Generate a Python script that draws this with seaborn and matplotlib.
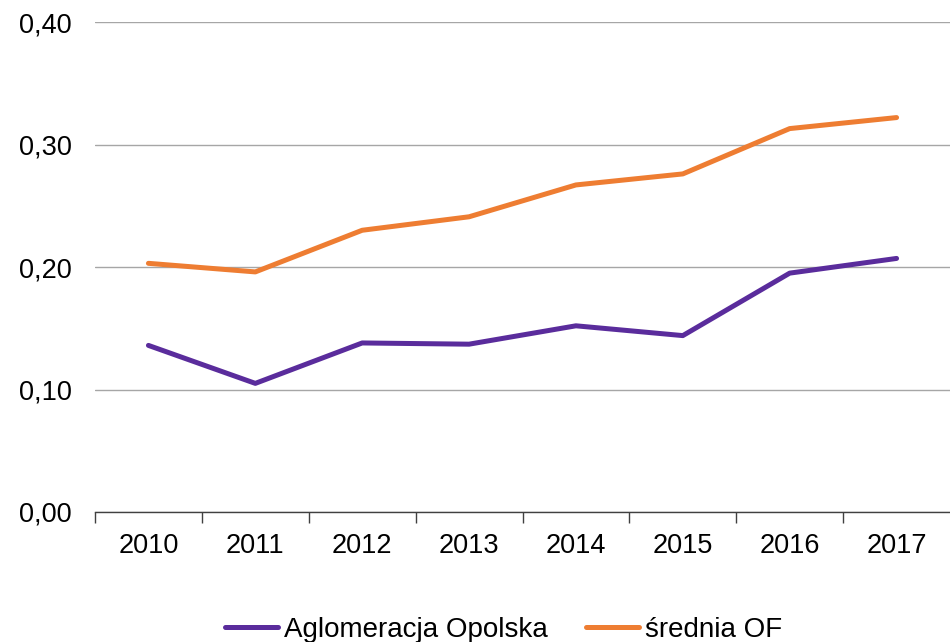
import matplotlib
matplotlib.use("Agg")
import matplotlib.pyplot as plt
import seaborn as sns
import pandas as pd

years = ["2010", "2011", "2012", "2013", "2014", "2015", "2016", "2017"]
aglomeracja = [0.136, 0.105, 0.138, 0.137, 0.152, 0.144, 0.195, 0.207]
srednia_of = [0.203, 0.196, 0.230, 0.241, 0.267, 0.276, 0.313, 0.322]
series_names = ["Aglomeracja Opolska", "średnia OF"]
yticks = [0.0, 0.1, 0.2, 0.3, 0.4]

sns.set_style("white")
plt.rcParams["font.family"] = ["Liberation Sans", "DejaVu Sans"]
plt.rcParams["text.color"] = "black"

df = pd.DataFrame({
    "rok": years * 2,
    "wartosc": aglomeracja + srednia_of,
    "seria": [series_names[0]] * len(years) + [series_names[1]] * len(years),
})

fig = plt.figure(figsize=(9.5, 6.42), dpi=100)
ax = fig.add_axes([0.1, 0.2025, 0.9, 0.7632])

sns.lineplot(
    data=df, x="rok", y="wartosc", hue="seria",
    palette=["#5A2C9C", "#EE7D32"], linewidth=3.6, ax=ax, sort=False,
)
for line in ax.lines:
    line.set_solid_capstyle("round")
    line.set_solid_joinstyle("round")

ax.set_xlim(-0.5, 7.5)
ax.set_ylim(0, 0.4)
ax.set_yticks(yticks)
ax.set_yticklabels([f"{v:.2f}".replace(".", ",") for v in yticks], fontsize=19.5)
ax.yaxis.grid(True, color="#A6A6A6", linewidth=1)
ax.set_axisbelow(True)
ax.tick_params(axis="y", length=0, pad=16.5, labelcolor="black")

# category labels in the middle, small ticks between the categories
ax.set_xticks(range(len(years)))
ax.set_xticklabels(years, fontsize=19.5)
ax.set_xticks([i - 0.5 for i in range(len(years))], minor=True)
ax.tick_params(axis="x", which="major", bottom=False, length=0, pad=15,
               labelcolor="black")
ax.tick_params(axis="x", which="minor", bottom=True, length=8, width=1,
               color="#404040", direction="out")

for side in ["left", "right", "top"]:
    ax.spines[side].set_visible(False)
ax.spines["bottom"].set_color("#404040")
ax.spines["bottom"].set_linewidth(1)

ax.set_xlabel("")
ax.set_ylabel("")

leg = ax.legend(
    loc="center", bbox_to_anchor=(0.478, -0.241), ncol=2, frameon=False,
    fontsize=20, handlelength=1.9, handletextpad=0.2, columnspacing=1.4,
)
for line in leg.get_lines():
    line.set_linewidth(3.6)
    line.set_solid_capstyle("round")
for t in leg.get_texts():
    t.set_color("black")

fig.savefig("out.png", dpi=100)
